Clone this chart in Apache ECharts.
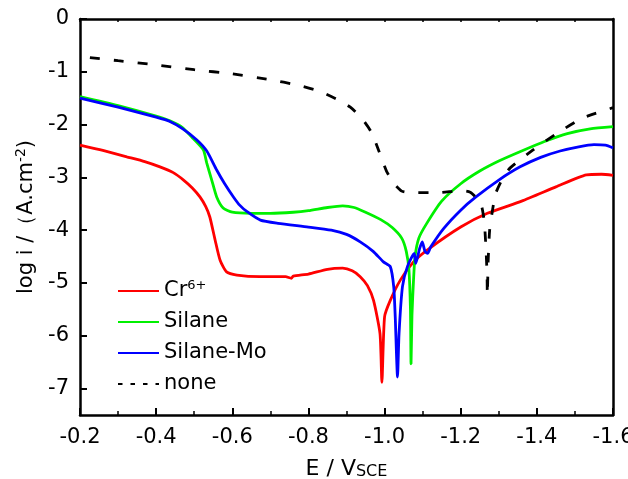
<!DOCTYPE html>
<html>
<head>
<meta charset="utf-8">
<script src="https://cdn.jsdelivr.net/npm/echarts@6.0.0/dist/echarts.min.js"></script>
<style>
html, body { margin: 0; padding: 0; background: #fff; }
#chart { width: 628px; height: 479px; }
</style>
</head>
<body>
<div id="chart"></div>
<script>
// polarisation curves, [E (V vs SCE), log i]
var crData = [
    [-0.2, -2.39], [-0.26, -2.49], [-0.323, -2.61], [-0.37, -2.7], [-0.41, -2.8],
    [-0.445, -2.91], [-0.472, -3.05], [-0.495, -3.2], [-0.515, -3.37], [-0.53, -3.55],
    [-0.541, -3.75], [-0.555, -4.19], [-0.568, -4.57], [-0.585, -4.79], [-0.612, -4.85],
    [-0.673, -4.88], [-0.74, -4.88], [-0.755, -4.91], [-0.76, -4.87], [-0.8, -4.83],
    [-0.85, -4.74], [-0.89, -4.72], [-0.915, -4.77], [-0.936, -4.88], [-0.955, -5.05],
    [-0.971, -5.33], [-0.988, -5.96], [-0.993, -6.88], [-1.0, -5.64], [-1.015, -5.33],
    [-1.041, -4.95], [-1.076, -4.6], [-1.111, -4.38], [-1.2, -3.94], [-1.27, -3.68],
    [-1.36, -3.45], [-1.45, -3.18], [-1.53, -2.95], [-1.57, -2.94], [-1.6, -2.96]
];
var silaneData = [
    [-0.2, -1.47], [-0.3, -1.64], [-0.4, -1.84], [-0.436, -1.93], [-0.47, -2.06],
    [-0.498, -2.27], [-0.524, -2.48], [-0.533, -2.73], [-0.546, -3.05], [-0.559, -3.37],
    [-0.576, -3.58], [-0.6, -3.66], [-0.65, -3.68], [-0.7, -3.68], [-0.76, -3.66],
    [-0.8, -3.63], [-0.85, -3.57], [-0.89, -3.54], [-0.92, -3.57], [-0.95, -3.66],
    [-0.99, -3.8], [-1.02, -3.95], [-1.045, -4.15], [-1.057, -4.4], [-1.064, -4.75],
    [-1.068, -5.5], [-1.0695, -6.53], [-1.072, -5.6], [-1.076, -4.95], [-1.08, -4.5],
    [-1.09, -4.15], [-1.11, -3.88], [-1.15, -3.45], [-1.2, -3.12], [-1.25, -2.88],
    [-1.3, -2.69], [-1.36, -2.5], [-1.42, -2.32], [-1.48, -2.17], [-1.54, -2.08],
    [-1.6, -2.04]
];
var silaneMoData = [
    [-0.2, -1.5], [-0.3, -1.67], [-0.4, -1.86], [-0.436, -1.94], [-0.47, -2.08],
    [-0.507, -2.29], [-0.533, -2.5], [-0.559, -2.86], [-0.58, -3.12], [-0.603, -3.37],
    [-0.62, -3.53], [-0.639, -3.65], [-0.674, -3.81], [-0.72, -3.87], [-0.8, -3.94],
    [-0.86, -4.0], [-0.9, -4.08], [-0.936, -4.22], [-0.97, -4.4], [-0.997, -4.6],
    [-1.015, -4.69], [-1.024, -5.07], [-1.028, -5.64], [-1.034, -6.78], [-1.038, -5.96],
    [-1.047, -5.07], [-1.06, -4.69], [-1.078, -4.44], [-1.082, -4.63], [-1.092, -4.35],
    [-1.099, -4.22], [-1.106, -4.4], [-1.113, -4.44], [-1.121, -4.32], [-1.155, -3.97],
    [-1.2, -3.62], [-1.24, -3.37], [-1.3, -3.05], [-1.356, -2.8], [-1.41, -2.62],
    [-1.461, -2.5], [-1.51, -2.42], [-1.55, -2.38], [-1.58, -2.39], [-1.6, -2.44]
];
var noneData = [
    [-0.226, -0.73], [-0.3, -0.79], [-0.4, -0.87], [-0.5, -0.96], [-0.6, -1.04],
    [-0.7, -1.15], [-0.77, -1.25], [-0.83, -1.37], [-0.875, -1.52], [-0.91, -1.67],
    [-0.94, -1.88], [-0.965, -2.14], [-0.985, -2.5], [-1.005, -2.88], [-1.025, -3.12],
    [-1.045, -3.26], [-1.07, -3.29], [-1.14, -3.29], [-1.2, -3.25], [-1.225, -3.28],
    [-1.24, -3.38], [-1.255, -3.55], [-1.262, -3.85], [-1.266, -4.3], [-1.269, -4.8],
    [-1.27, -5.23], [-1.272, -4.6], [-1.276, -4.0], [-1.284, -3.6], [-1.292, -3.3],
    [-1.31, -3.02], [-1.33, -2.82], [-1.39, -2.48], [-1.454, -2.16], [-1.522, -1.87],
    [-1.6, -1.68]
];
var seriesNames = ['Cr6+', 'Silane', 'Silane-Mo', 'none'];
var yTicks = [0, -1, -2, -3, -4, -5, -6, -7];

var font = 'DejaVu Sans, Liberation Sans, Arial, sans-serif';
var myChart = echarts.init(document.getElementById('chart'));

function curve(name, data, color, dashed) {
    return {
        name: name,
        type: 'line',
        data: data,
        symbol: 'none',
        smooth: 0.2,
        clip: true,
        lineStyle: {
            color: color,
            width: 2.8,
            type: dashed ? [10, 14] : 'solid'
        },
        itemStyle: {color: color}
    };
}

myChart.setOption({
    animation: false,
    backgroundColor: '#fff',
    textStyle: {fontFamily: font, color: '#000'},
    grid: {left: 80, right: 15, top: 19, bottom: 64, outerBoundsMode: 'none', containLabel: false},
    legend: {
        orient: 'vertical',
        left: 112,
        top: 274,
        itemWidth: 41,
        itemHeight: 14,
        itemGap: 10,
        itemStyle: {opacity: 0},
        data: [
            seriesNames[0], seriesNames[1], seriesNames[2],
            {name: 'none', lineStyle: {type: [4.5, 8], width: 2}}
        ],
        formatter: function (name) {
            if (name === 'Cr6+') {
                return '{a|Cr}{s|6+}';
            }
            return '{a|' + name + '}';
        },
        textStyle: {
            fontFamily: font,
            color: '#000',
            rich: {
                a: {fontSize: 21, lineHeight: 24, fontFamily: font, color: '#000'},
                s: {fontSize: 13, lineHeight: 14, verticalAlign: 'top', fontFamily: font, color: '#000'}
            }
        }
    },
    xAxis: [
        {
            type: 'value',
            inverse: true,
            min: -1.6,
            max: -0.2,
            interval: 0.2,
            position: 'bottom',
            name: '{a|E / V}{b|SCE}',
            nameLocation: 'middle',
            nameGap: 43,
            nameTextStyle: {
                rich: {
                    a: {fontSize: 22, lineHeight: 22, fontFamily: font, color: '#000'},
                    b: {fontSize: 16, lineHeight: 16, verticalAlign: 'bottom', fontFamily: font, color: '#000'}
                }
            },
            axisLine: {onZero: false, lineStyle: {color: '#000', width: 2.5}},
            axisTick: {inside: true, length: 7, lineStyle: {color: '#000', width: 2}},
            minorTick: {show: true, splitNumber: 2, length: 4, lineStyle: {color: '#000', width: 1.5}},
            axisLabel: {
                fontSize: 21,
                color: '#000',
                margin: 12,
                fontFamily: font,
                formatter: function (v) { return v.toFixed(1); }
            },
            splitLine: {show: false}
        },
        {
            type: 'value',
            inverse: true,
            min: -1.6,
            max: -0.2,
            interval: 0.1,
            position: 'top',
            axisLine: {onZero: false, lineStyle: {color: '#000', width: 2.5}},
            axisTick: {inside: true, length: 3, lineStyle: {color: '#000', width: 1.5}},
            axisLabel: {show: false},
            splitLine: {show: false}
        }
    ],
    yAxis: [
        {
            type: 'value',
            min: -7.5,
            max: 0,
            name: '{a|log i /（A.cm}{s|-2}{a|)}',
            nameLocation: 'middle',
            nameGap: 41,
            nameTextStyle: {
                rich: {
                    a: {fontSize: 21, lineHeight: 24, fontFamily: font, color: '#000'},
                    s: {fontSize: 14, lineHeight: 15, verticalAlign: 'top', fontFamily: font, color: '#000'}
                }
            },
            axisLine: {onZero: false, lineStyle: {color: '#000', width: 2.5}},
            axisTick: {inside: true, length: 7, customValues: yTicks, lineStyle: {color: '#000', width: 2}},
            axisLabel: {fontSize: 21, color: '#000', margin: 11, fontFamily: font, customValues: yTicks},
            splitLine: {show: false}
        },
        {
            type: 'value',
            min: -7.5,
            max: 0,
            position: 'right',
            axisLine: {show: true, onZero: false, lineStyle: {color: '#000', width: 2.5}},
            axisTick: {show: false},
            axisLabel: {show: false},
            splitLine: {show: false}
        }
    ],
    series: [
        curve(seriesNames[0], crData, '#ff0000', false),
        curve(seriesNames[1], silaneData, '#00f000', false),
        curve(seriesNames[2], silaneMoData, '#0000ff', false),
        curve(seriesNames[3], noneData, '#000000', true)
    ]
});
</script>
</body>
</html>
